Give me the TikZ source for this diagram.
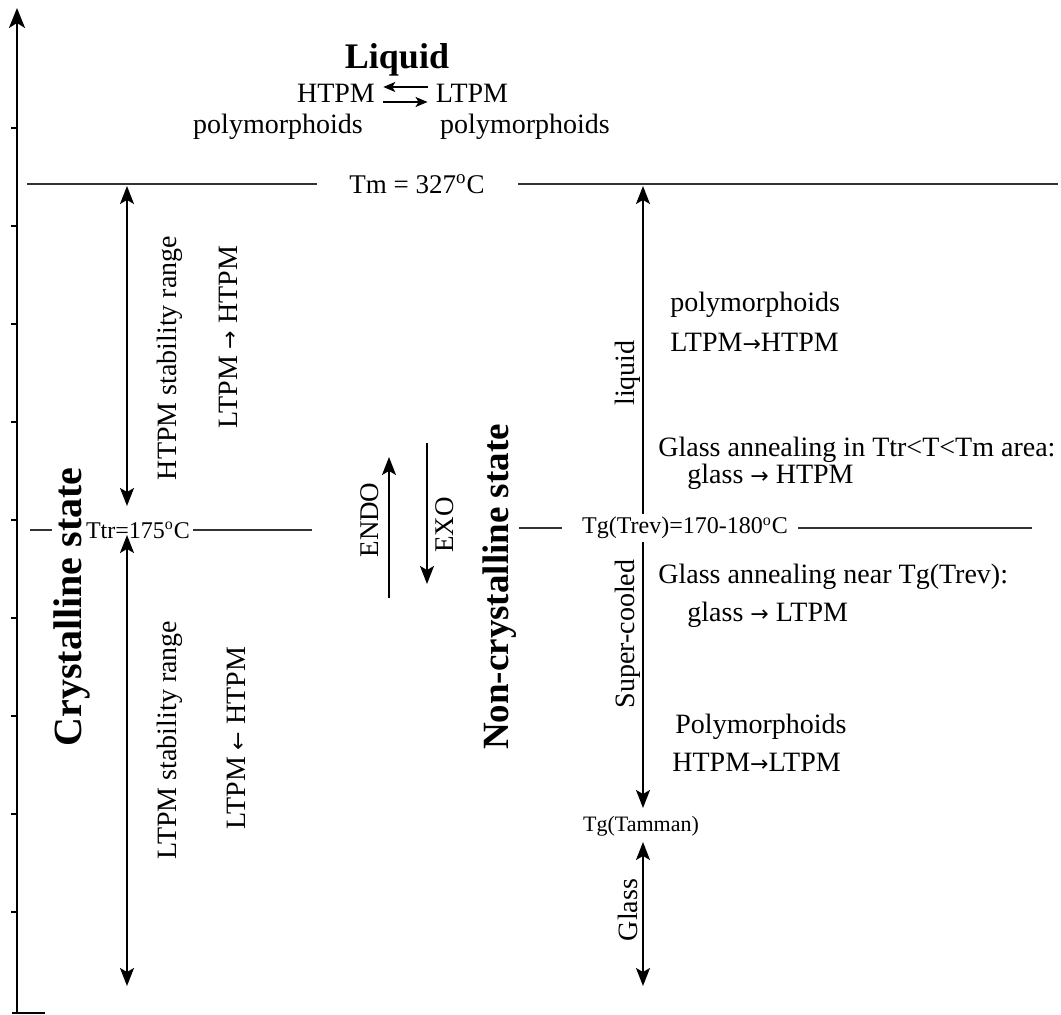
\documentclass[tikz,border=0pt]{standalone}
\usepackage{fontspec}
\setmainfont{Liberation Serif}
\newfontfamily\arrowfont{DejaVu Sans}
\newcommand{\ra}{{\arrowfont\fontsize{11}{14}\selectfont →}}
\newcommand{\la}{{\arrowfont\fontsize{11}{14}\selectfont ←}}
\usetikzlibrary{arrows.meta}

\begin{document}
\begin{tikzpicture}[
  x=0.5pt, y=-0.5pt,
  every node/.style={font=\fontsize{14}{16}\selectfont, inner sep=0pt},
  tlabel/.style={font=\fontsize{12}{14}\selectfont, fill=white, inner sep=1.5pt},
  state/.style={font=\fontsize{20}{22}\selectfont\bfseries, rotate=90, fill=white, inner sep=1pt},
  vtext/.style={rotate=90},
  level/.style={line width=0.9pt, black!80},
  span/.style={{Stealth[length=9pt,width=7pt,inset=2pt]}-{Stealth[length=9pt,width=7pt,inset=2pt]}, line width=0.8pt},
  heat/.style={-{Stealth[length=9pt,width=7pt,inset=2pt]}, line width=0.8pt},
  small/.style={-{Stealth[length=6pt,width=5pt,inset=1.5pt]}, line width=0.8pt}
]
\useasboundingbox (0,0) rectangle (1061,1015);
% temperature axis
\coordinate (org) at (17,1013);
\coordinate (top) at (17,8);
\coordinate (foot) at (45,1013);
\draw[line width=1.1pt, -{Stealth[length=10pt,width=8pt,inset=2.5pt]}] (org) -- (top);
\draw[line width=1.1pt] ([xshift=-2.5pt]org) -- (foot);
\foreach \ty in {128,226,324,422,520,618,716,814,912}
  \draw[line width=0.7pt] (11,\ty) -- (17,\ty);
% Tm level
\coordinate (tmA) at (27,184);
\coordinate (tmB) at (317,184);
\coordinate (tmC) at (518,184);
\coordinate (tmD) at (1058,184);
\draw[level] (tmA) -- (tmB);
\draw[level] (tmC) -- (tmD);
\node[font=\fontsize{13.5}{16}\selectfont] (tm) at (417,184) {Tm = 327\textsuperscript{o}C};
% Ttr / Tg(Trev) level
\coordinate (ttrA) at (30,530);
\coordinate (ttrB) at (312,530);
\coordinate (tgA) at (517,528);
\coordinate (tgB) at (562,528);
\coordinate (tgC) at (798,528);
\coordinate (tgD) at (1032,528);
\draw[level] (ttrA) -- (ttrB);
\draw[level] (tgA) -- (tgB);
\draw[level] (tgC) -- (tgD);
% liquid
\node[font=\fontsize{18}{20}\selectfont\bfseries] (liq) at (397,60) {Liquid};
\node[inner xsep=4pt] (htpm) at (336,93) {HTPM};
\node[inner xsep=4pt] (ltpm) at (472,93) {LTPM};
\node (polyA) at (278,127) {polymorphoids};
\node (polyB) at (525,127) {polymorphoids};
\draw[small] ([yshift=3pt]ltpm.west) -- ([yshift=3pt]htpm.east);
\draw[small] ([yshift=-4.5pt]htpm.east) -- ([yshift=-4.5pt]ltpm.west);
% crystalline side
\coordinate (hA) at (127,186);
\coordinate (hB) at (127,506);
\coordinate (lA) at (127,535);
\coordinate (lB) at (127,986);
\node[state] (cryst) at (72,607) {Crystalline state};
\node[tlabel] (ttr) at (138,530) {Ttr=175\textsuperscript{o}C};
\draw[span] (hA) -- (hB);
\draw[span] (lA) -- (lB);
\node[vtext] (hrange) at (170,358) {HTPM stability range};
\node[vtext] (hconv) at (228,337) {LTPM \ra{} HTPM};
\node[vtext] (lrange) at (170,740) {LTPM stability range};
\node[vtext] (lconv) at (236,738) {LTPM \la{} HTPM};
% heat flow
\coordinate (endoA) at (389,598);
\coordinate (endoB) at (389,457);
\coordinate (exoA) at (427,443);
\coordinate (exoB) at (427,584);
\draw[heat] (endoA) -- (endoB);
\draw[heat] (exoA) -- (exoB);
\node[vtext, font=\fontsize{13.5}{16}\selectfont] (endo) at (370,520) {ENDO};
\node[vtext, font=\fontsize{13.5}{16}\selectfont] (exo) at (445,525) {EXO};
% non-crystalline side
\node[state, font=\fontsize{18.5}{20}\selectfont\bfseries] (noncr) at (500,587) {Non-crystalline state};
\coordinate (scA) at (643,186);
\coordinate (scB) at (643,808);
\coordinate (glA) at (643,842);
\coordinate (glB) at (643,986);
\draw[span] (scA) -- (scB);
\draw[span] (glA) -- (glB);
\node[tlabel] (tgrev) at (685,528) {Tg(Trev)=170-180\textsuperscript{o}C};
\node[font=\fontsize{11}{13}\selectfont] (tgtam) at (641,826) {Tg(Tamman)};
\node[vtext] (vliq) at (628,373) {liquid};
\node[vtext] (vsc) at (628,634) {Super-cooled};
\node[vtext] (vgl) at (628,910) {Glass};
% processes
\node[anchor=west] (pA) at (670,305) {polymorphoids};
\node[anchor=west] (pB) at (670,342) {LTPM\ra HTPM};
\node[anchor=west] (annA) at (658,450) {Glass annealing in Ttr<T<Tm area:};
\node[anchor=west] (annB) at (687,477) {glass \ra{} HTPM};
\node[anchor=west] (annC) at (658,577) {Glass annealing near Tg(Trev):};
\node[anchor=west] (annD) at (687,615) {glass \ra{} LTPM};
\node[anchor=west] (pC) at (675,727) {Polymorphoids};
\node[anchor=west] (pD) at (672,762) {HTPM\ra LTPM};
\end{tikzpicture}
\end{document}
